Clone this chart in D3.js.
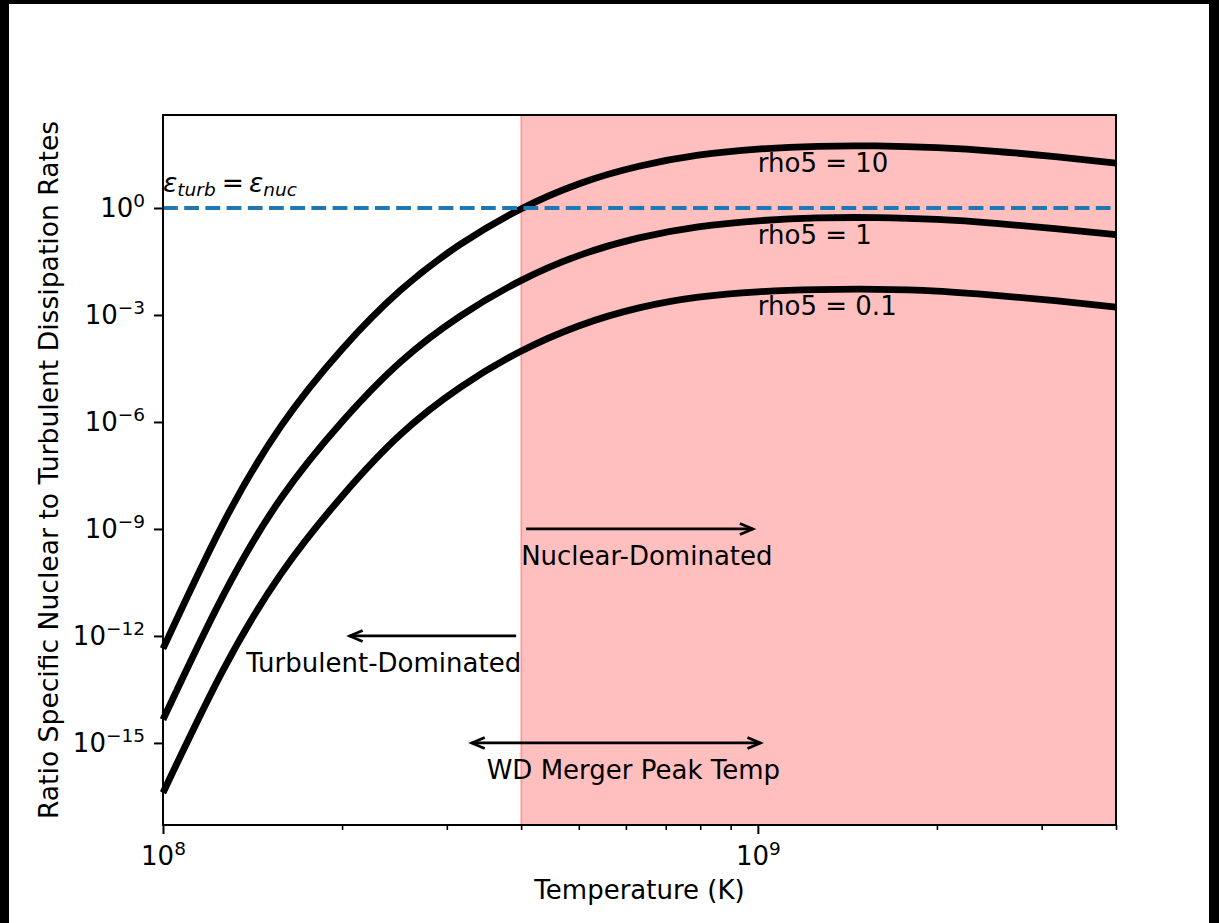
<!DOCTYPE html>
<html>
<head>
<meta charset="utf-8">
<script src="https://cdn.jsdelivr.net/npm/d3@7"></script>
<style>
body { margin: 0; background: #000; }
text { font-family: "DejaVu Sans", sans-serif; }
</style>
</head>
<body>
<script>
// temperature grid (K)
var temps = [1e8, 1.26e8, 1.58e8, 2.0e8, 2.51e8, 3.16e8, 3.98e8, 5.01e8, 6.31e8,
             7.94e8, 1e9, 1.26e9, 1.58e9, 2.0e9, 2.51e9, 3.16e9, 4.0e9];

// ratio eps_nuc / eps_turb
var rho10 = [4.4e-13, 1.35e-9, 7.8e-7, 1.1e-4, 5.0e-3, 9.5e-2, 0.91, 4.8, 14.8,
             30.2, 44.7, 53.7, 55.0, 49.0, 38.9, 27.5, 18.2];
var rho1 = [4.5e-15, 1.29e-11, 7.4e-9, 1.02e-6, 4.9e-5, 9.3e-4, 8.9e-3, 4.7e-2, 0.145,
            0.295, 0.437, 0.525, 0.537, 0.479, 0.372, 0.263, 0.178];
var rho01 = [4.0e-17, 1.05e-13, 5.6e-11, 8.3e-9, 4.5e-7, 9.3e-6, 9.3e-5, 5.0e-4, 1.58e-3,
             3.16e-3, 4.47e-3, 5.13e-3, 5.25e-3, 4.68e-3, 3.55e-3, 2.51e-3, 1.66e-3];

var seriesLabels = ["rho5 = 10", "rho5 = 1", "rho5 = 0.1"];
var labelRatios = [10, 0.1, 0.001];
var labelTemp = 1e9;

var xTicks = [1e8, 1e9];
var xMinorTicks = [2e8, 3e8, 4e8, 5e8, 6e8, 7e8, 8e8, 9e8, 2e9, 3e9, 4e9];
var yTicks = [1, 1e-3, 1e-6, 1e-9, 1e-12, 1e-15];
var xDomain = [1e8, 4e9];
var yDomain = [5.0e-18, 405];
var spanRange = [4e8, 4e9];
var equalityLevel = 1;

// annotations
var arrowFrom = [4e8, 4e8, 3.24e8];
var arrowTo = [1e9, 2.02e8, 1.03e9];
var arrowLevel = [1e-9, 1e-12, 1e-15];
var arrowBoth = [false, false, true];
var noteText = ["Nuclear-Dominated", "Turbulent-Dominated", "WD Merger Peak Temp"];
var noteTemp = [4e8, 4e8, 3.5e8];
var noteLevel = [1e-10, 1e-13, 1e-16];
var noteAnchor = ["start", "end", "start"];

var width = 1219, height = 923;
var pLeft = 163, pRight = 1116, pTop = 115, pBottom = 825;

var svg = d3.select("body").append("svg")
    .attr("width", width)
    .attr("height", height);

svg.append("rect").attr("width", width).attr("height", height).attr("fill", "#000");
svg.append("rect").attr("x", 9).attr("y", 4).attr("width", 1200).attr("height", 919).attr("fill", "#fff");

var x = d3.scaleLog().domain(xDomain).range([pLeft, pRight]);
var y = d3.scaleLog().domain(yDomain).range([pBottom, pTop]);

//shaded nuclear region
svg.append("rect")
    .attr("x", x(spanRange[0]))
    .attr("y", pTop)
    .attr("width", x(spanRange[1]) - x(spanRange[0]))
    .attr("height", pBottom - pTop)
    .attr("fill", "rgba(255,0,0,0.25)")
    .attr("stroke", "rgba(255,0,0,0.25)")
    .attr("stroke-width", 2);

//curves
var line = d3.line()
    .x(function(d, i){ return x(temps[i]); })
    .y(function(d){ return y(d); })
    .curve(d3.curveNatural);

[rho10, rho1, rho01].forEach(function(s){
    svg.append("path")
        .attr("d", line(s))
        .attr("fill", "none")
        .attr("stroke", "#000")
        .attr("stroke-width", 6.8);
});

//series labels
seriesLabels.forEach(function(t, i){
    svg.append("text")
        .attr("x", x(labelTemp))
        .attr("y", y(labelRatios[i]))
        .attr("font-size", 26)
        .text(t);
});

//eps_turb = eps_nuc line
svg.append("line")
    .attr("x1", x(xDomain[0])).attr("x2", x(xDomain[1]))
    .attr("y1", y(equalityLevel)).attr("y2", y(equalityLevel))
    .attr("stroke", "#1f77b4")
    .attr("stroke-width", 4)
    .attr("stroke-dasharray", "14.8,6.4");

var eq = svg.append("text")
    .attr("x", x(xDomain[0]))
    .attr("y", y(2.8))
    .attr("font-size", 26.5);
eq.append("tspan").attr("font-style", "italic").text("ε");
eq.append("tspan").attr("font-style", "italic").attr("font-size", 18.5).attr("dy", 4).text("turb");
eq.append("tspan").attr("dy", -4).attr("dx", 6).text("=");
eq.append("tspan").attr("font-style", "italic").attr("dx", 5).text("ε");
eq.append("tspan").attr("font-style", "italic").attr("font-size", 18.5).attr("dy", 4).text("nuc");

//arrows
function head(xt, yt, dir){
    svg.append("path")
        .attr("d", "M" + (xt - dir * 13) + "," + (yt - 5.5) + "L" + xt + "," + yt + "L" + (xt - dir * 13) + "," + (yt + 5.5))
        .attr("fill", "none")
        .attr("stroke", "#000")
        .attr("stroke-width", 2.7);
}
arrowFrom.forEach(function(f, i){
    var x0 = x(f), x1 = x(arrowTo[i]), yy = y(arrowLevel[i]);
    var dir = x1 > x0 ? 1 : -1;
    x0 += dir * 5; x1 -= dir * 5;
    svg.append("line")
        .attr("x1", x0).attr("x2", x1).attr("y1", yy).attr("y2", yy)
        .attr("stroke", "#000").attr("stroke-width", 2.7);
    head(x1, yy, dir);
    if (arrowBoth[i]) head(x0, yy, -dir);
});

noteText.forEach(function(t, i){
    svg.append("text")
        .attr("x", x(noteTemp[i]))
        .attr("y", y(noteLevel[i]))
        .attr("text-anchor", noteAnchor[i])
        .attr("font-size", 26)
        .text(t);
});

//axes
function powLabel(sel, d){
    var e = Math.round(Math.log10(d));
    sel.text("10");
    sel.append("tspan")
        .attr("font-size", 18.5)
        .attr("dy", -10)
        .text(e < 0 ? "\u2212" + (-e) : String(e));
}

var yAxis = svg.append("g")
    .attr("transform", "translate(" + pLeft + ",0)")
    .call(d3.axisLeft(y).tickValues(yTicks).tickSize(9).tickPadding(9).tickFormat(function(){ return ""; }));
yAxis.select(".domain").remove();
yAxis.selectAll(".tick line").attr("stroke", "#000").attr("stroke-width", 2);
yAxis.selectAll(".tick text")
    .attr("font-size", 26)
    .attr("fill", "#000")
    .attr("dy", 8.5)
    .each(function(d){ powLabel(d3.select(this), d); });

var xAxis = svg.append("g")
    .attr("transform", "translate(0," + pBottom + ")")
    .call(d3.axisBottom(x).tickValues(xTicks).tickSize(9).tickFormat(function(){ return ""; }));
xAxis.select(".domain").remove();
xAxis.selectAll(".tick line").attr("stroke", "#000").attr("stroke-width", 2);
xAxis.selectAll(".tick text")
    .attr("font-size", 26)
    .attr("fill", "#000")
    .attr("y", 40)
    .attr("dy", 0)
    .each(function(d){ powLabel(d3.select(this), d); });

var xMinor = svg.append("g")
    .attr("transform", "translate(0," + pBottom + ")")
    .call(d3.axisBottom(x).tickValues(xMinorTicks).tickSize(5).tickFormat(function(){ return ""; }));
xMinor.select(".domain").remove();
xMinor.selectAll(".tick line").attr("stroke", "#000").attr("stroke-width", 1.6);

//frame
svg.append("rect")
    .attr("x", pLeft).attr("y", pTop)
    .attr("width", pRight - pLeft).attr("height", pBottom - pTop)
    .attr("fill", "none")
    .attr("stroke", "#000")
    .attr("stroke-width", 2);

svg.append("text")
    .attr("x", (pLeft + pRight) / 2)
    .attr("y", 899)
    .attr("text-anchor", "middle")
    .attr("font-size", 26)
    .text("Temperature (K)");

svg.append("text")
    .attr("transform", "translate(58," + (pTop + pBottom) / 2 + ") rotate(-90)")
    .attr("text-anchor", "middle")
    .attr("font-size", 26.6)
    .text("Ratio Specific Nuclear to Turbulent Dissipation Rates");
</script>
</body>
</html>
